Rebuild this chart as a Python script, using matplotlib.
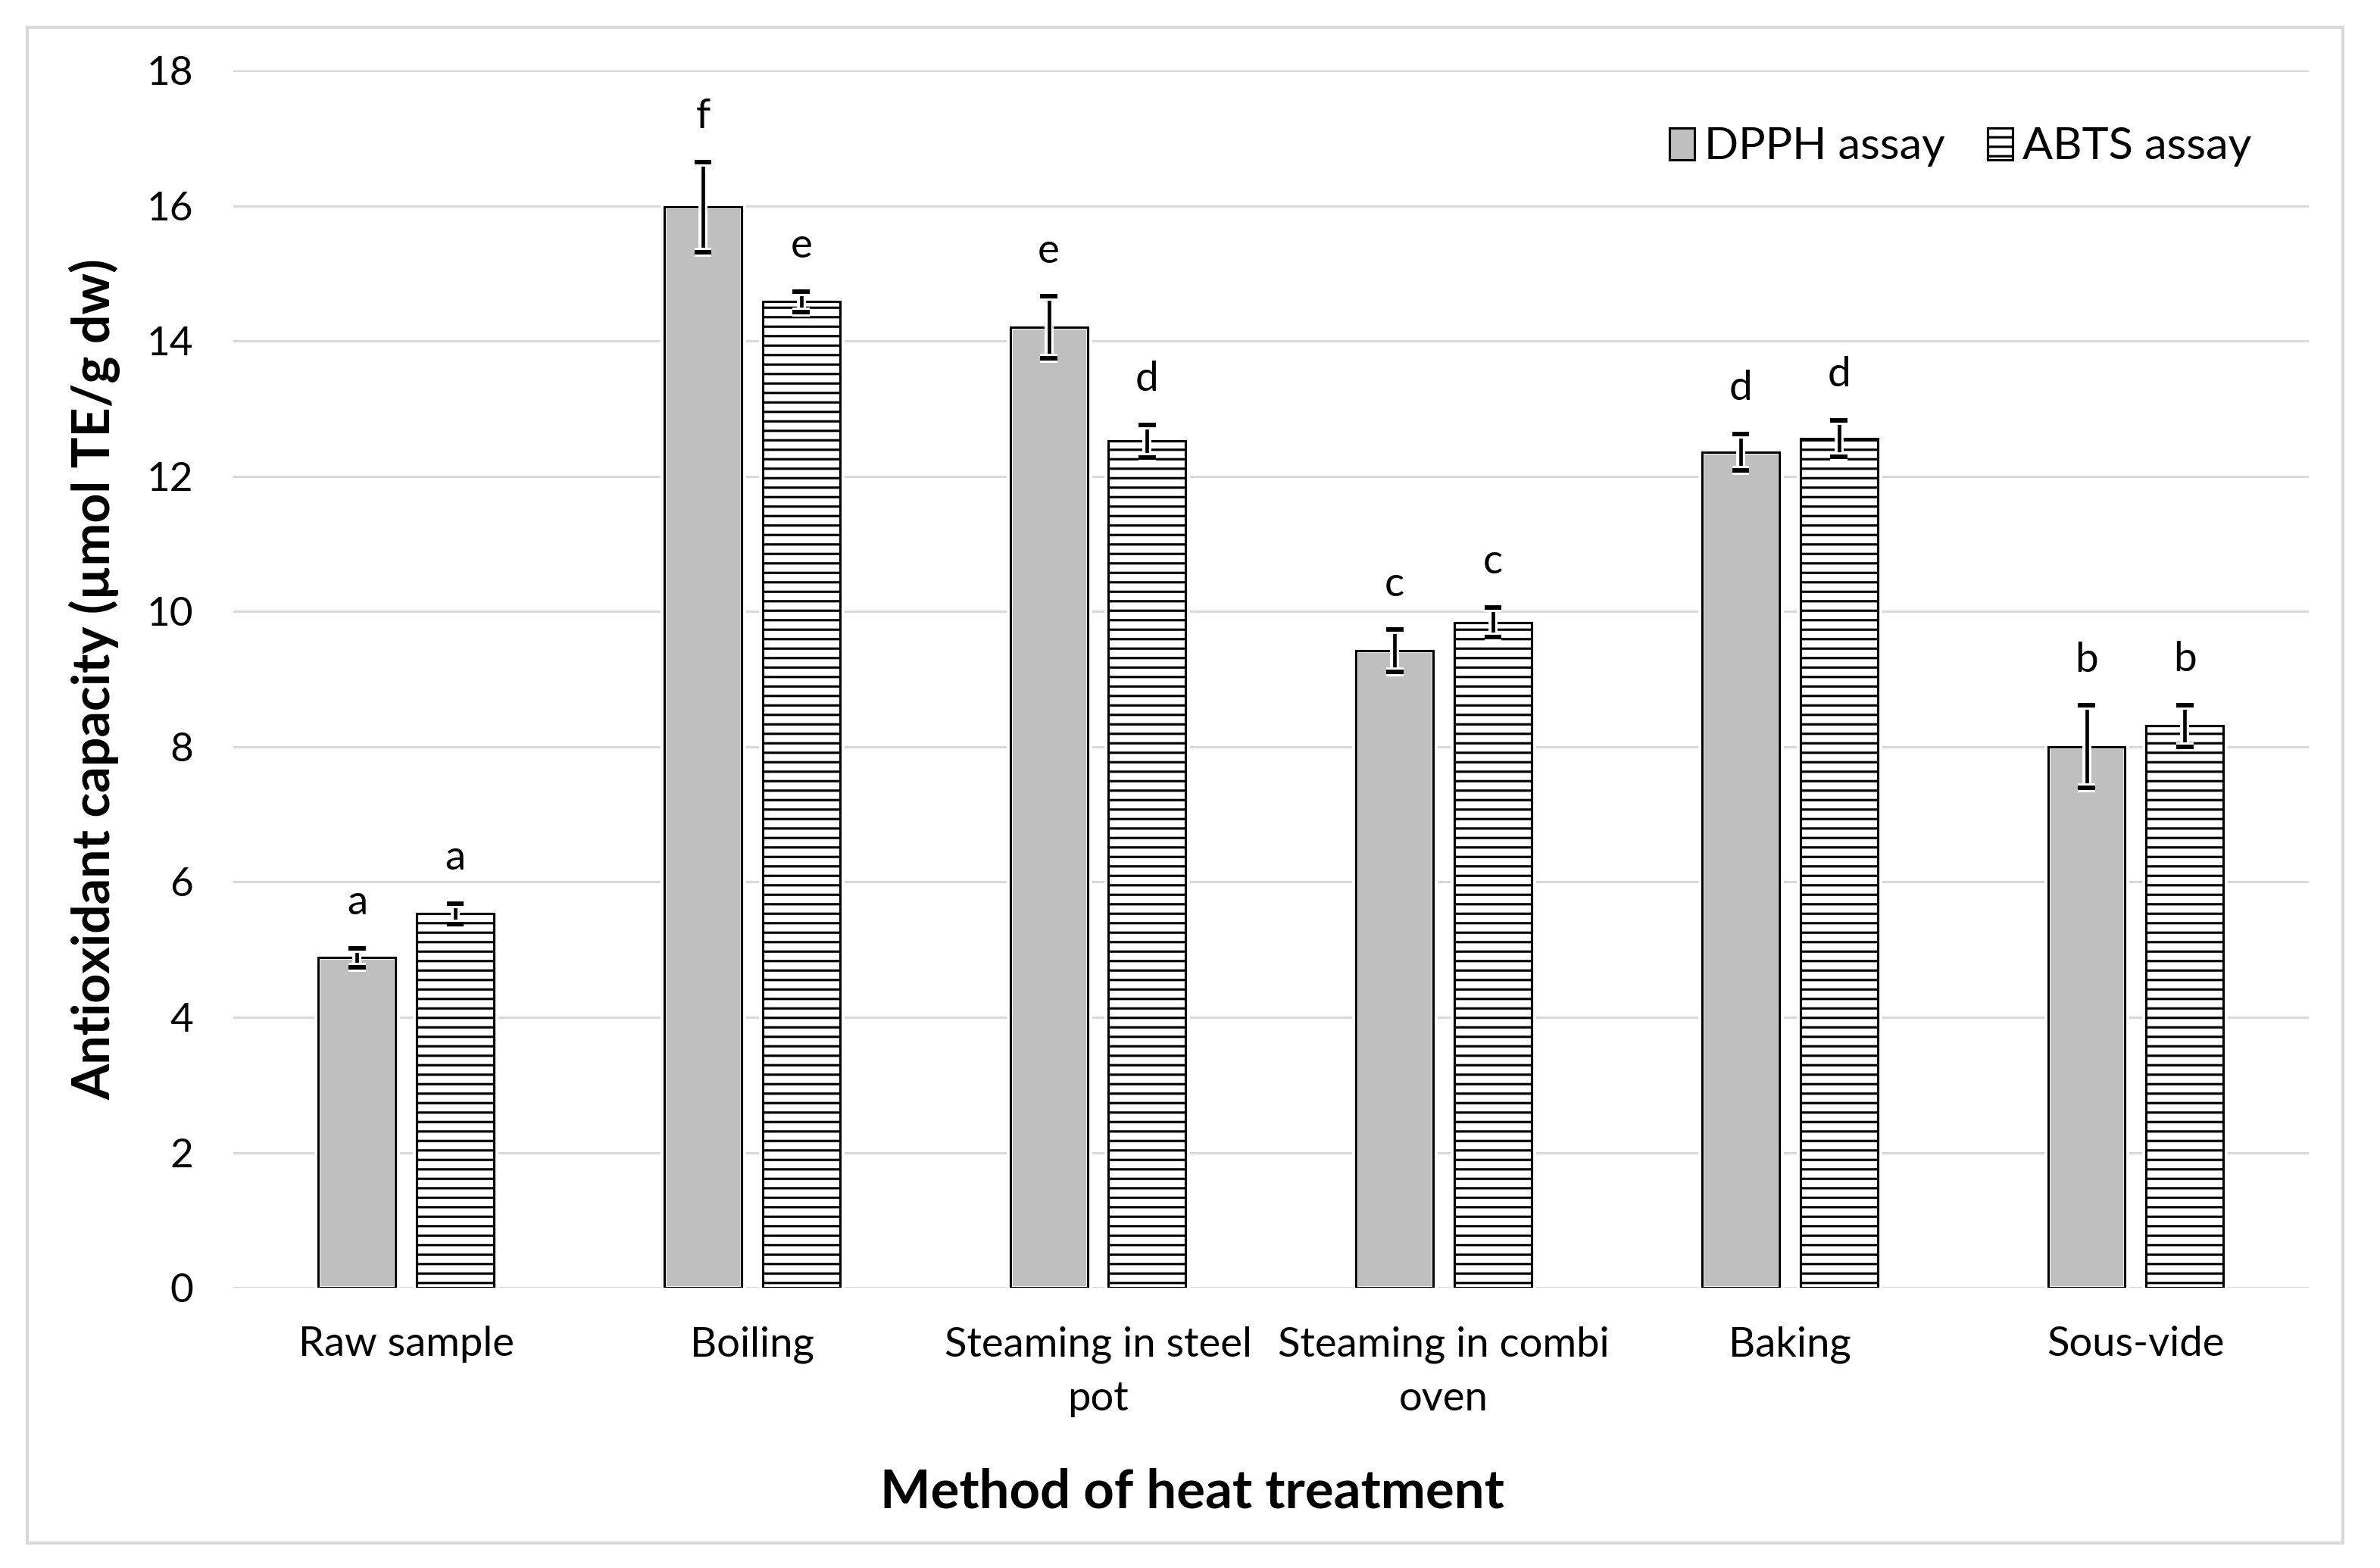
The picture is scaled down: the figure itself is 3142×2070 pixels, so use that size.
import numpy as np
import matplotlib
matplotlib.use("Agg")
import matplotlib.pyplot as plt
import matplotlib.patheffects as pe
from matplotlib.patches import Patch, Rectangle

methods = ["Raw sample", "Boiling", "Steaming in steel\npot",
           "Steaming in combi\noven", "Baking", "Sous-vide"]
dpph_mean = [4.88, 15.98, 14.20, 9.42, 12.36, 8.00]
dpph_err = [0.14, 0.67, 0.46, 0.31, 0.27, 0.61]
abts_mean = [5.53, 14.58, 12.52, 9.84, 12.56, 8.31]
abts_err = [0.15, 0.15, 0.24, 0.22, 0.27, 0.31]
dpph_letters = ["a", "f", "e", "c", "d", "b"]
abts_letters = ["a", "e", "d", "c", "d", "b"]
y_ticks = list(range(0, 19, 2))

DPI = 225
plt.rcParams["font.family"] = ["Lato", "DejaVu Sans"]
plt.rcParams["hatch.linewidth"] = 1.0

fig = plt.figure(figsize=(3142 / DPI, 2070 / DPI), dpi=DPI)
ax = fig.add_axes([0.098, 0.1787, 0.872, 0.7763])

x = np.arange(len(methods))
w = 0.223
off = 0.142
grey = "#bfbfbf"

# white halo behind the bars (breaks the gridlines like the original)
for xs, vals in [(x - off, dpph_mean), (x + off, abts_mean)]:
    ax.bar(xs, vals, w, color="white", edgecolor="white", linewidth=3.5, zorder=2)

ax.bar(x - off, dpph_mean, w, color=grey, edgecolor="white", linewidth=1.6, zorder=3)
ax.bar(x - off, dpph_mean, w, facecolor="none", edgecolor="black", linewidth=1.0, zorder=4)
ax.bar(x + off, abts_mean, w, color="white", edgecolor="black", hatch="---",
       linewidth=1.0, zorder=3)

halo = [pe.Stroke(linewidth=3.8, foreground="white"), pe.Normal()]
for xs, vals, errs in [(x - off, dpph_mean, dpph_err), (x + off, abts_mean, abts_err)]:
    eb = ax.errorbar(xs, vals, yerr=errs, fmt="none", ecolor="black",
                     elinewidth=1.5, capsize=3.6, capthick=1.9, zorder=5)
    for art in list(eb.lines[1]) + list(eb.lines[2]):
        art.set_path_effects(halo)

for xs, vals, errs, letters in [(x - off, dpph_mean, dpph_err, dpph_letters),
                                (x + off, abts_mean, abts_err, abts_letters)]:
    for xi, v, e, lab in zip(xs, vals, errs, letters):
        ax.text(xi, v + e + 0.5, lab, ha="center", va="baseline", fontsize=17.5)

ax.set_xlim(-0.5, len(methods) - 0.5)
ax.set_ylim(0, 18)
ax.set_yticks(y_ticks)
ax.set_xticks(x)
ax.set_xticklabels(methods, fontsize=17.4, linespacing=1.55)
ax.tick_params(axis="y", length=0, pad=17, labelsize=17)
ax.tick_params(axis="x", length=0, pad=16)
ax.grid(axis="y", color="#d9d9d9", linewidth=1.0, zorder=0)
ax.set_axisbelow(True)
for s in ax.spines.values():
    s.set_visible(False)

fig.text(0.501, 1 - 1970 / 2070, "Method of heat treatment", ha="center", va="center",
         fontsize=22.6, fontweight="bold")
fig.text(125 / 3142, 0.567, "Antioxidant capacity (µmol TE/g dw)", ha="center",
         va="center", rotation=90, fontsize=21.8, fontweight="bold")

handles = [Patch(facecolor=grey, edgecolor="black", linewidth=1.0),
           Patch(facecolor="white", edgecolor="black", hatch="---", linewidth=1.0)]
fig.legend(handles, ["DPPH assay", "ABTS assay"], loc="center left",
           bbox_to_anchor=(0.7015, 1 - 194 / 2070), ncol=2, frameon=False,
           fontsize=19, handlelength=0.55, handleheight=0.7, handletextpad=0.22,
           columnspacing=0.95, borderpad=0, borderaxespad=0)

# outer chart border
fig.patches.append(Rectangle((36 / 3142, 1 - 2037 / 2070), (3093 - 36) / 3142,
                             (2037 - 36) / 2070, transform=fig.transFigure,
                             fill=False, edgecolor="#d9d9d9", linewidth=1.3))

fig.savefig("out.png", dpi=DPI, facecolor="white")
